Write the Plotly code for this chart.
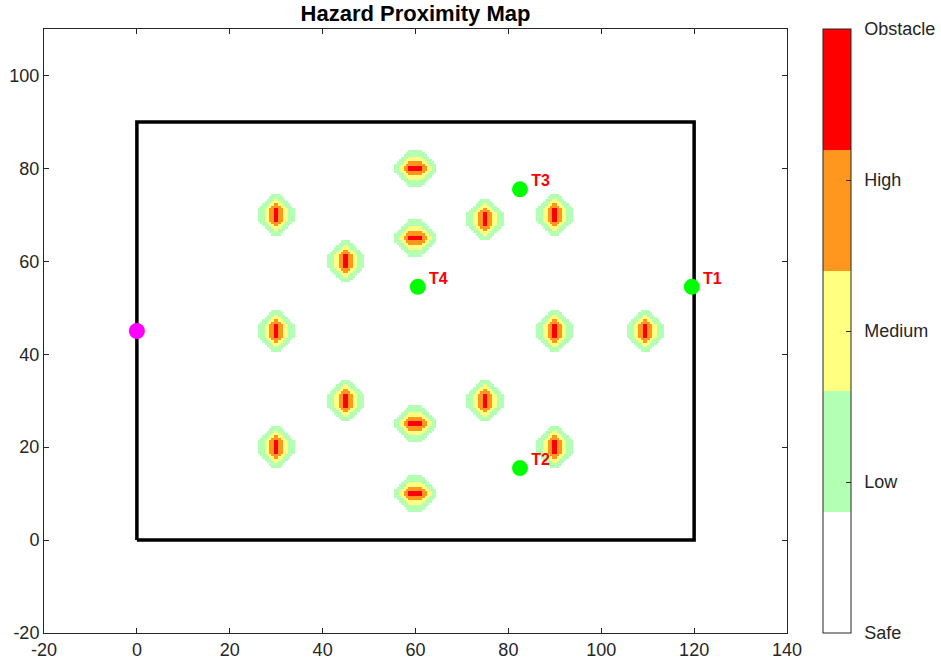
import numpy as np
import plotly.graph_objects as go

# ---- data ----
obstacle_x = [30, 60, 60, 75, 90, 45, 30, 90, 109.5, 45, 60, 75, 30, 90, 60]
obstacle_y = [70, 80, 65, 69, 70, 60, 45, 45, 45, 30, 25, 30, 20, 20, 10]
obstacle_vertical = [1, 0, 0, 1, 1, 1, 1, 1, 1, 1, 0, 1, 1, 1, 0]

target_names = ["T1", "T2", "T3", "T4"]
target_x = [119.5, 82.5, 82.5, 60.5]
target_y = [54.5, 15.5, 75.5, 54.5]

start_x = [0]
start_y = [45]

boundary_x = [0, 120, 120, 0, 0]
boundary_y = [0, 0, 90, 90, 0]

level_names = ["Safe", "Low", "Medium", "High", "Obstacle"]
level_values = [0, 1, 2, 3, 4]
level_colors = ["#FFFFFF", "#B3FFB3", "#FFFF80", "#FF961E", "#FF0000"]

x_ticks = [-20, 0, 20, 40, 60, 80, 100, 120, 140]
y_ticks = [-20, 0, 20, 40, 60, 80, 100]

# ---- hazard grid (0.5 resolution) ----
res = 0.5
gx = np.arange(0, 120, res) + res / 2
gy = np.arange(0, 90, res) + res / 2
X, Y = np.meshgrid(gx, gy)
dist = np.full(X.shape, np.inf)
for ox, oy, v in zip(obstacle_x, obstacle_y, obstacle_vertical):
    hw, hh = (0.5, 1.25) if v else (1.25, 0.5)
    d = np.maximum(0, np.abs(X - ox) - hw) + np.maximum(0, np.abs(Y - oy) - hh)
    dist = np.minimum(dist, d)
Z = np.zeros(X.shape)
Z[dist <= 3.25] = 1
Z[dist <= 2.0] = 2
Z[dist <= 1.0] = 3
Z[dist <= 0.0] = 4

n = len(level_colors)
colorscale = []
for i, c in enumerate(level_colors):
    colorscale.append([i / n, c])
    colorscale.append([(i + 1) / n, c])

FONT = "Liberation Sans, Arial"
fig = go.Figure()
fig.add_trace(go.Heatmap(
    x=gx, y=gy, z=Z, zmin=0, zmax=4, colorscale=colorscale,
    hoverinfo="skip",
    colorbar=dict(
        tickvals=level_values, ticktext=["\u00a0\u2009" + s for s in level_names],
        thickness=28, thicknessmode="pixels", len=1, lenmode="fraction",
        x=1.0485, xanchor="left", xpad=0, y=0.5, yanchor="middle", ypad=0,
        outlinecolor="#262626", outlinewidth=1,
        ticks="inside", ticklen=5, tickcolor="#262626",
        tickfont=dict(size=18, color="#262626", family=FONT),
    ),
))
fig.add_trace(go.Scatter(x=boundary_x, y=boundary_y, mode="lines",
                         line=dict(color="black", width=3.5), showlegend=False))
fig.add_trace(go.Scatter(x=start_x, y=start_y, mode="markers",
                         marker=dict(color="#FF00FF", size=16), showlegend=False))
fig.add_trace(go.Scatter(x=target_x, y=target_y, mode="markers",
                         marker=dict(color="#00FF00", size=16), showlegend=False))
fig.add_trace(go.Scatter(x=[v + 2.4 for v in target_x], y=[v + 1.5 for v in target_y],
                         mode="text", text=target_names, textposition="middle right",
                         textfont=dict(color="#FF0000", size=16, family=FONT, weight="bold"),
                         showlegend=False))

axis_common = dict(showgrid=False, zeroline=False, showline=True, linecolor="#262626",
                   linewidth=1, mirror="ticks", ticks="inside", ticklen=5,
                   tickcolor="#262626",
                   tickfont=dict(size=18, color="#262626", family=FONT))
fig.update_xaxes(range=[-20, 140], tickmode="array", tickvals=x_ticks,
                 ticktext=[str(t) for t in x_ticks], **axis_common)
fig.update_yaxes(range=[-20, 110], tickmode="array", tickvals=y_ticks,
                 ticktext=[str(t) for t in y_ticks], **axis_common)

fig.update_layout(
    width=941, height=667,
    margin=dict(l=44, r=154, t=29, b=34, autoexpand=False),
    plot_bgcolor="white", paper_bgcolor="white",
    title=dict(text="<b>Hazard Proximity Map</b>", x=(44 + 787) / 2 / 941, xanchor="center",
               y=1 - 13 / 667, yanchor="middle",
               font=dict(size=22, color="black", family=FONT)),
    showlegend=False,
)
fig.write_html("out.html")
